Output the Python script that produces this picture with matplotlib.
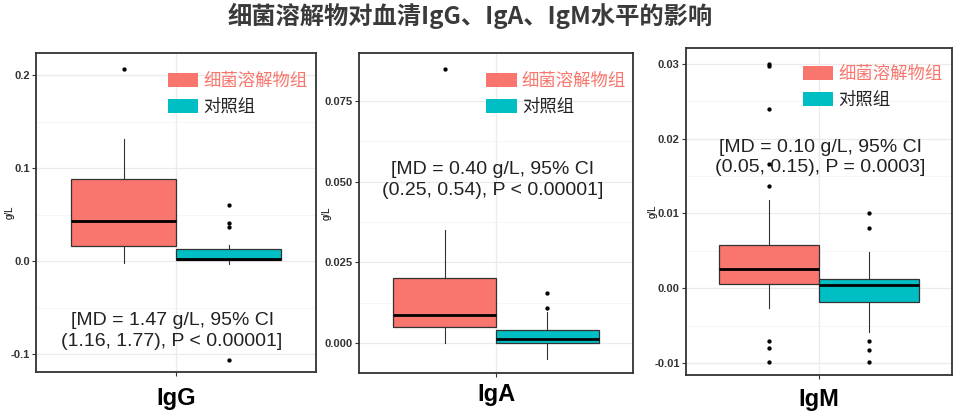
import matplotlib
matplotlib.use("Agg")
import matplotlib.pyplot as plt
from matplotlib.patches import Patch
from matplotlib.font_manager import FontProperties

plt.rcParams['font.family'] = ['Liberation Sans', 'Noto Sans CJK SC', 'DejaVu Sans']

# ---------------- data ----------------
groups = ['细菌溶解物组', '对照组']
panels = ['IgG', 'IgA', 'IgM']
title = '细菌溶解物对血清IgG、IgA、IgM水平的影响'

igg_q1 = [0.016, 0.001]
igg_med = [0.043, 0.003]
igg_q3 = [0.089, 0.013]
igg_lo = [-0.002, -0.003]
igg_hi = [0.131, 0.018]
igg_out = [[0.207], [0.061, 0.041, 0.037, -0.106]]

iga_q1 = [0.0049, 0.0]
iga_med = [0.0087, 0.0012]
iga_q3 = [0.0201, 0.0040]
iga_lo = [0.0, -0.0050]
iga_hi = [0.035, 0.0095]
iga_out = [[0.085], [0.0155, 0.011]]

igm_q1 = [0.0006, -0.0019]
igm_med = [0.0026, 0.0004]
igm_q3 = [0.00576, 0.0012]
igm_lo = [-0.0027, -0.0059]
igm_hi = [0.0118, 0.0048]
igm_out = [[0.0300, 0.0297, 0.0240, 0.0166, 0.0137, -0.0070, -0.0080, -0.0099],
           [0.0101, 0.0081, -0.0071, -0.0082, -0.0099]]

igg_ticks = [-0.1, 0.0, 0.1, 0.2]
igg_ticklabels = ['-0.1', '0.0', '0.1', '0.2']
iga_ticks = [0.0, 0.025, 0.05, 0.075]
iga_ticklabels = ['0.000', '0.025', '0.050', '0.075']
igm_ticks = [-0.01, 0.0, 0.01, 0.02, 0.03]
igm_ticklabels = ['-0.01', '0.00', '0.01', '0.02', '0.03']

igg_text = '[MD = 1.47 g/L, 95% CI\n(1.16, 1.77), P < 0.00001]'
iga_text = '[MD = 0.40 g/L, 95% CI\n(0.25, 0.54), P < 0.00001]'
igm_text = '[MD = 0.10 g/L, 95% CI\n(0.05, 0.15), P = 0.0003]'

# ---------------- styling / layout ----------------
RED = '#F8766D'
CYAN = '#00BFC4'
DARK = '#333333'

cfg = [
    dict(name='IgG', q1=igg_q1, med=igg_med, q3=igg_q3, lo=igg_lo, hi=igg_hi, out=igg_out,
         ticks=igg_ticks, tl=igg_ticklabels, ylim=(-0.119, 0.224),
         rect=[36/960, 1-372/419, 280/960, 319/419], text=igg_text, txy=(0.486, -0.0747),
         leg=(0.471, 0.94), ylx=10, lp=6),
    dict(name='IgA', q1=iga_q1, med=iga_med, q3=iga_q3, lo=iga_lo, hi=iga_hi, out=iga_out,
         ticks=iga_ticks, tl=iga_ticklabels, ylim=(-0.0093, 0.0899),
         rect=[359/960, 1-373/419, 274/960, 320/419], text=iga_text, txy=(0.489, 0.0505),
         leg=(0.464, 0.94), ylx=327, lp=3),
    dict(name='IgM', q1=igm_q1, med=igm_med, q3=igm_q3, lo=igm_lo, hi=igm_hi, out=igm_out,
         ticks=igm_ticks, tl=igm_ticklabels, ylim=(-0.0116, 0.0321),
         rect=[686/960, 1-375/419, 266/960, 327/419], text=igm_text, txy=(0.504, 0.01747),
         leg=(0.44, 0.947), ylx=653, lp=5),
]

fig = plt.figure(figsize=(9.6, 4.19), dpi=100)

positions = [0.3125, 0.6875]
colors = [RED, CYAN]

for c in cfg:
    ax = fig.add_axes(c['rect'])
    stats = []
    for i in range(2):
        stats.append(dict(q1=c['q1'][i], med=c['med'][i], q3=c['q3'][i],
                          whislo=c['lo'][i], whishi=c['hi'][i], fliers=c['out'][i]))
    bp = ax.bxp(stats, positions=positions, widths=0.375, patch_artist=True,
                showcaps=False, manage_ticks=False,
                boxprops=dict(edgecolor=DARK, linewidth=0.9),
                medianprops=dict(color='black', linewidth=2.0),
                whiskerprops=dict(color=DARK, linewidth=0.8),
                flierprops=dict(marker='o', markersize=2.1, markerfacecolor='black',
                                markeredgecolor='black', linestyle='none'),
                zorder=3)
    for b, col in zip(bp['boxes'], colors):
        b.set_facecolor(col)

    ax.set_xlim(0, 1)
    ax.set_ylim(*c['ylim'])
    ax.set_yticks(c['ticks'])
    ax.set_yticklabels(c['tl'], fontsize=8, color=DARK, fontweight='bold')
    minors = [(a + b) / 2 for a, b in zip(c['ticks'][:-1], c['ticks'][1:])]
    ax.set_yticks(minors, minor=True)
    ax.set_xticks([0.5])
    ax.set_xticklabels([''])
    ax.tick_params(axis='both', which='major', length=3, width=0.8, color=DARK, pad=1.5)
    ax.tick_params(axis='y', which='minor', length=0)
    ax.grid(True, which='major', color='#EBEBEB', linewidth=0.9, zorder=0)
    ax.grid(True, which='minor', axis='y', color='#F2F2F2', linewidth=0.5, zorder=0)
    ax.set_axisbelow(True)
    for s in ax.spines.values():
        s.set_color(DARK)
        s.set_linewidth(1.3)

    ax.set_xlabel(c['name'], fontsize=17, fontweight='bold', color='black', labelpad=c['lp'])
    fig.text(c['ylx']/960, c['rect'][1] + c['rect'][3]/2, 'g/L', rotation=90,
             fontsize=7, color='black', ha='center', va='center')

    ax.text(c['txy'][0], c['txy'][1], c['text'], transform=ax.get_yaxis_transform(),
            ha='center', va='center', fontsize=14, color='#222222', linespacing=1.3,
            zorder=5)

    handles = [Patch(facecolor=RED, edgecolor='none'), Patch(facecolor=CYAN, edgecolor='none')]
    leg = ax.legend(handles, groups, loc='upper left', bbox_to_anchor=c['leg'],
                    frameon=False, prop=FontProperties(family='Noto Sans CJK SC', size=12.5),
                    handlelength=1.75, handleheight=0.85, handletextpad=0.3,
                    labelspacing=0.45, borderpad=0, borderaxespad=0)
    texts = leg.get_texts()
    texts[0].set_color(RED)
    texts[1].set_color('#222222')

fig.text(0.49, 0.962, title, ha='center', va='center', fontsize=17.5,
         fontweight='bold', color='#3a3a3a', family=['Noto Sans CJK SC'])

fig.savefig('out.png', dpi=100)
